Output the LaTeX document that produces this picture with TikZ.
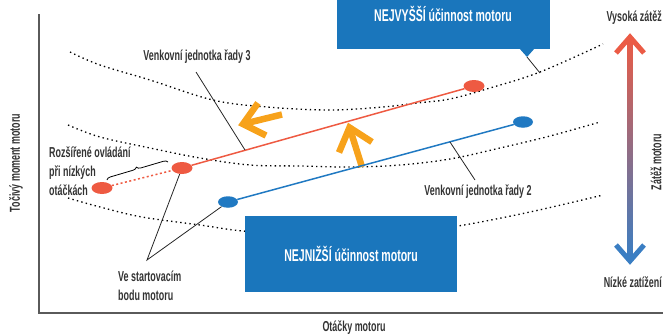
\documentclass[tikz,border=0pt]{standalone}
\usepackage{fontspec}
\setmainfont{Liberation Sans}[FakeStretch=0.62]
\usetikzlibrary{shapes.geometric,decorations.pathreplacing}
\definecolor{boxblue}{HTML}{1A76BC}
\definecolor{linered}{HTML}{EE5A42}
\definecolor{lineblue}{HTML}{2079C2}
\definecolor{orangeA}{HTML}{F7A21B}
\definecolor{txt}{HTML}{333333}
\definecolor{axisgray}{HTML}{5A5A5A}
\definecolor{arrred}{HTML}{EB5B45}
\definecolor{arrmid}{HTML}{9E6383}
\definecolor{arrblue}{HTML}{3A7EC3}
\begin{document}
\begin{tikzpicture}[x=1pt,y=-1pt,
  lbl/.style={font=\fontsize{14.4}{19}\selectfont\bfseries, text=txt, inner sep=0pt},
  boxtxt/.style={font=\fontsize{17}{19}\selectfont\bfseries, text=white, inner sep=0pt},
  bluebox/.style={fill=boxblue, draw=none, inner sep=0pt},
  dotcurve/.style={black, line width=1.3pt, dash pattern=on 1.4pt off 3.2pt},
  reddot/.style={ellipse, fill=linered, draw=none, minimum width=21pt, minimum height=12pt, inner sep=0pt},
  bluedot/.style={ellipse, fill=lineblue, draw=none, minimum width=20pt, minimum height=11.5pt, inner sep=0pt},
  leader/.style={black!85, line width=0.8pt},
  chev/.style={line width=6.5pt, line join=miter, color=orangeA},
  gchev/.style={line width=5pt, line join=miter}
]
\useasboundingbox (0,0) rectangle (663,335);

% axes
\coordinate (ytop) at (39,14);
\coordinate (orig) at (39,313);
\coordinate (xend) at (663,313);
\draw[axisgray, line width=2pt] (ytop) -- (orig) -- (xend);
\node[lbl, rotate=90] (ylab) at (16,163) {Točivý moment motoru};
\node[lbl] (xlab) at (354,328) {Otáčky motoru};

% dotted curves
\draw[dotcurve] plot[smooth, tension=0.6] coordinates {(70,52) (100,65) (150,80) (213,100) (267,107) (330,110) (383,107) (417,103) (450,99) (490,88) (540,72) (603,44)};
\draw[dotcurve] plot[smooth, tension=0.6] coordinates {(68,125) (100,137) (150,148) (200,158) (250,165) (300,166) (350,167) (400,165) (450,159) (500,148) (550,136) (600,122)};
\draw[dotcurve] plot[smooth, tension=0.6] coordinates {(68,198) (100,207) (142,217) (200,225) (243,231) (300,234) (350,235) (400,233) (458,226) (530,212) (603,195)};

% boxes
\node[bluebox, minimum width=213pt, minimum height=49pt] (hibox) at (443.5,24.5) {};
\fill[boxblue] (519,48) -- (527,57) -- (535,48) -- cycle;
\node[boxtxt] (hitext) at (443,14) {NEJVYŠŠÍ účinnost motoru};
\coordinate (hitip) at (527,57);
\coordinate (hicurve) at (540,73);
\draw[leader] (hitip) -- (hicurve);

\node[bluebox, minimum width=212pt, minimum height=76pt, boxtxt] (lobox) at (351,254) {NEJNIŽŠÍ účinnost motoru};

% orange arrows
\draw[chev] (258,103) -- (243,124) -- (266,135.5);
\coordinate (o1a) at (243,124);
\coordinate (o1b) at (282,114.5);
\draw[orangeA, line width=6.5pt] (o1a) -- (o1b);
\draw[chev] (339,152.5) -- (349.5,127.5) -- (372,142);
\coordinate (o2a) at (349.5,127.5);
\coordinate (o2b) at (362,167);
\draw[orangeA, line width=6.5pt] (o2a) -- (o2b);

% series lines
\node[reddot] (r0) at (102,188) {};
\node[reddot] (r1) at (182,168) {};
\node[reddot] (r2) at (474,86) {};
\node[bluedot] (b1) at (228,202) {};
\node[bluedot] (b2) at (523,122) {};
\draw[linered, line width=1.5pt, dash pattern=on 2pt off 2.5pt] (r0) -- (r1);
\draw[linered, line width=1.5pt] (r1) -- (r2);
\draw[lineblue, line width=1.5pt] (b1) -- (b2);

% brace
\coordinate (brA) at (107,180);
\coordinate (brB) at (168,162);
\draw[black, line width=0.8pt, decorate, decoration={brace, amplitude=4pt}] (brA) -- (brB);

% labels and leaders
\node[lbl] (s3) at (197,57) {Venkovní jednotka řady 3};
\coordinate (s3a) at (196,72);
\coordinate (s3b) at (245,150);
\draw[leader] (s3a) -- (s3b);

\node[lbl] (s2) at (478,192) {Venkovní jednotka řady 2};
\coordinate (s2a) at (450,142);
\coordinate (s2b) at (475,180);
\draw[leader] (s2a) -- (s2b);

\node[lbl, align=left, anchor=west] (ext) at (49,171) {Rozšířené ovládání\\při nízkých\\otáčkách};

\node[lbl, align=left, anchor=west] (start) at (118,286) {Ve startovacím\\bodu motoru};
\coordinate (stv) at (147,260);
\draw[leader] (r1) -- (stv) -- (b1);

% load arrow
\shade[top color=arrred, middle color=arrmid, bottom color=arrblue] (627.5,38) rectangle (632.5,259);
\draw[gchev, arrred] (616,53) -- (630,37) -- (644,53);
\draw[gchev, arrblue] (616,245) -- (630,261) -- (644,245);
\node[lbl, anchor=east] (hi) at (662,18) {Vysoká zátěž};
\node[lbl, anchor=east] (lo) at (662,282) {Nízké zatížení};
\node[lbl, rotate=90] (load) at (656,162) {Zátěž motoru};
\end{tikzpicture}
\end{document}
